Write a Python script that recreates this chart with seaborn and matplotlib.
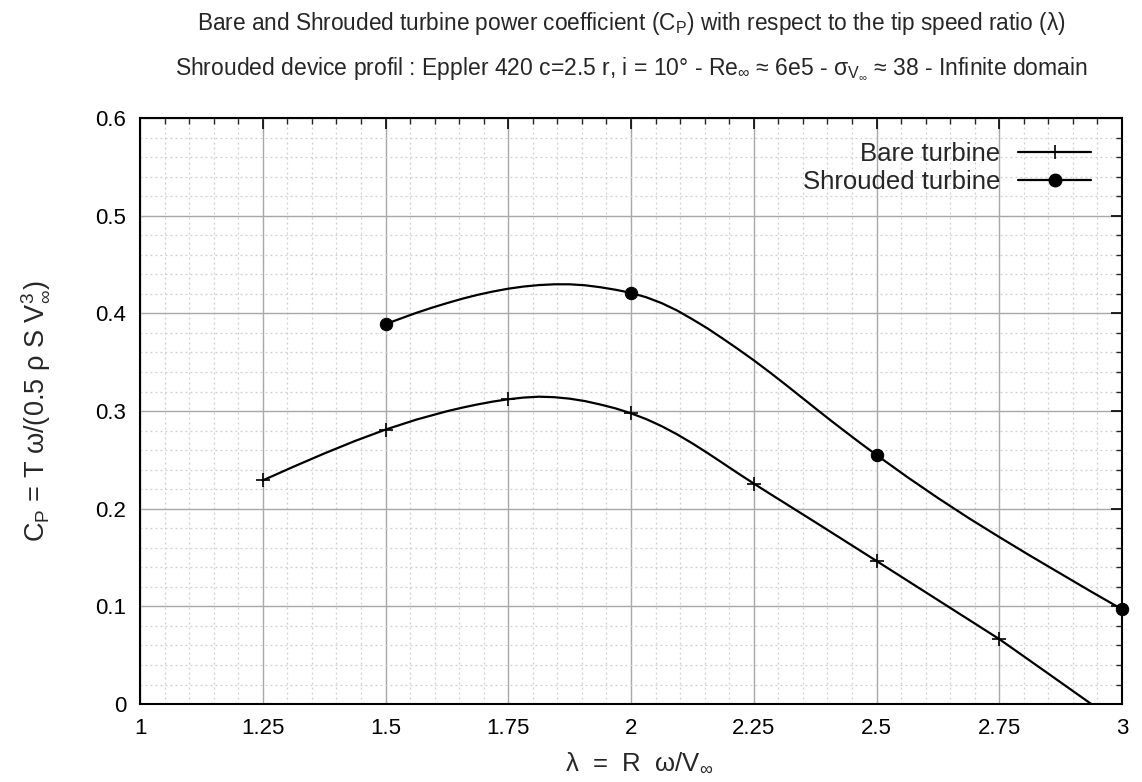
import matplotlib
matplotlib.use("Agg")
import matplotlib.pyplot as plt
import seaborn as sns
import pandas as pd
from matplotlib.lines import Line2D
from matplotlib.ticker import MultipleLocator

# Measured data points (markers)
bare_tsr = [1.25, 1.5, 1.75, 2.0, 2.25, 2.5, 2.75, 3.0]
bare_cp = [0.229, 0.281, 0.3121, 0.2977, 0.2258, 0.1465, 0.0665, -0.022]
shroud_tsr = [1.5, 2.0, 2.5, 3.0]
shroud_cp = [0.389, 0.421, 0.255, 0.097]

# Smoothed curves, values
bare_curve_tsr = [1.25, 1.3125, 1.375, 1.4375, 1.5, 1.5625, 1.625, 1.65625, 1.6875, 1.71875,
                  1.75, 1.78125, 1.8125, 1.84375, 1.875, 1.90625, 1.9375, 1.96875, 2.0,
                  2.03125, 2.0625, 2.09375, 2.125, 2.15625, 2.1875, 2.21875, 2.25, 2.28125,
                  2.3125, 2.375, 2.4375, 2.5, 2.5625, 2.625, 2.6875, 2.75, 2.8125, 2.875,
                  2.9375, 3.0]
bare_curve_cp = [0.229, 0.243, 0.2565, 0.2693, 0.281, 0.2912, 0.2998, 0.3035, 0.3068, 0.3097,
                 0.3121, 0.3138, 0.3147, 0.3142, 0.3127, 0.3102, 0.3067, 0.3027, 0.2977,
                 0.2917, 0.2845, 0.2762, 0.2669, 0.2569, 0.2465, 0.236, 0.2258, 0.2158,
                 0.206, 0.1863, 0.1664, 0.1465, 0.1265, 0.1065, 0.0865, 0.0665, 0.0444, 0.0222,
                 0.0, -0.022]
shroud_curve_tsr = [1.5, 1.53125, 1.5625, 1.59375, 1.625, 1.65625, 1.6875, 1.71875, 1.75,
                    1.78125, 1.8125, 1.84375, 1.875, 1.90625, 1.9375, 1.96875, 2.0, 2.03125,
                    2.0625, 2.09375, 2.125, 2.15625, 2.1875, 2.21875, 2.25, 2.28125, 2.3125,
                    2.34375, 2.375, 2.40625, 2.4375, 2.46875, 2.5, 2.5625, 2.625, 2.6875,
                    2.75, 2.8125, 2.875, 2.9375, 3.0]
shroud_curve_cp = [0.389, 0.3948, 0.4005, 0.4057, 0.4105, 0.415, 0.419, 0.4224, 0.4253,
                   0.4275, 0.429, 0.4298, 0.4298, 0.4288, 0.4268, 0.4242, 0.421, 0.4165,
                   0.4105, 0.403, 0.394, 0.3845, 0.374, 0.3632, 0.352, 0.3402, 0.328,
                   0.3155, 0.303, 0.2906, 0.2785, 0.2666, 0.255, 0.2325, 0.211, 0.1905,
                   0.171, 0.152, 0.1335, 0.115, 0.097]

x_ticks = [1, 1.25, 1.5, 1.75, 2, 2.25, 2.5, 2.75, 3]
x_tick_labels = ["1", "1.25", "1.5", "1.75", "2", "2.25", "2.5", "2.75", "3"]
y_ticks = [0, 0.1, 0.2, 0.3, 0.4, 0.5, 0.6]
y_tick_labels = ["0", "0.1", "0.2", "0.3", "0.4", "0.5", "0.6"]

sns.set_style("white")
plt.rcParams["font.family"] = ["Liberation Sans", "DejaVu Sans"]
plt.rcParams["mathtext.fontset"] = "custom"
plt.rcParams["mathtext.rm"] = "Liberation Sans"
plt.rcParams["mathtext.it"] = "Liberation Sans"
plt.rcParams["mathtext.sf"] = "Liberation Sans"

fig = plt.figure(figsize=(11.42, 7.82), dpi=100)
ax = fig.add_axes([0.1226, 0.0997, 0.8599, 0.7493])

bare_curve = pd.DataFrame({"tsr": bare_curve_tsr, "cp": bare_curve_cp})
shroud_curve = pd.DataFrame({"tsr": shroud_curve_tsr, "cp": shroud_curve_cp})
sns.lineplot(data=bare_curve, x="tsr", y="cp", ax=ax, color="black", lw=1.6, sort=False,
             zorder=3, solid_joinstyle="round")
sns.lineplot(data=shroud_curve, x="tsr", y="cp", ax=ax, color="black", lw=1.6, sort=False,
             zorder=3, solid_joinstyle="round")
bare_pts = pd.DataFrame({"tsr": bare_tsr, "cp": bare_cp})
shroud_pts = pd.DataFrame({"tsr": shroud_tsr, "cp": shroud_cp})
sns.scatterplot(data=bare_pts, x="tsr", y="cp", ax=ax, marker="+", s=90, color="black",
                linewidth=1.2, zorder=4)
sns.scatterplot(data=shroud_pts, x="tsr", y="cp", ax=ax, marker="o", s=80, color="black",
                edgecolor="black", zorder=4, clip_on=False)

ax.set_xlim(1, 3)
ax.set_ylim(0, 0.6)
ax.set_xticks(x_ticks)
ax.set_xticklabels(x_tick_labels, fontsize=16)
ax.set_yticks(y_ticks)
ax.set_yticklabels(y_tick_labels, fontsize=16)
ax.xaxis.set_minor_locator(MultipleLocator(0.05))
ax.yaxis.set_minor_locator(MultipleLocator(0.02))
ax.tick_params(which="major", direction="in", length=8, width=1.2, top=True, right=True, pad=10,
               colors="black")
ax.tick_params(which="minor", direction="in", length=4, width=1.0, top=True, right=True)
ax.grid(which="major", color="#a8a8a8", lw=1.0, ls="-")
ax.grid(which="minor", color="#cfcfcf", lw=0.9, ls=(0, (1.5, 2.5)))
ax.set_axisbelow(True)
for sp in ax.spines.values():
    sp.set_color("black")
    sp.set_linewidth(1.5)

ax.set_xlabel(r"λ  =  R  ω/V$_\infty$", fontsize=18.5)
ax.xaxis.set_label_coords(0.508, -0.08)
ax.set_ylabel(r"C$_\mathrm{P}$ = T ω/(0.5 ρ S V$_\infty^3$)", fontsize=19.5, labelpad=31)

fig.text(0.5525, 0.970, "Bare and Shrouded turbine power coefficient (C$_\\mathrm{P}$) with respect to the tip speed ratio (λ)",
         ha="center", va="center", fontsize=16.3)
fig.text(0.5525, 0.912, "Shrouded device profil : Eppler 420 c=2.5 r, i = 10° - Re$_\\infty$ ≈ 6e5 - σ$_{V_\\infty}$ ≈ 38 - Infinite domain",
         ha="center", va="center", fontsize=16.5)

handles = [Line2D([], [], color="black", lw=1.6, marker="+", markersize=10, markeredgewidth=1.2),
           Line2D([], [], color="black", lw=1.6, marker="o", markersize=9)]
ax.legend(handles, ["Bare turbine", "Shrouded turbine"], loc="upper right", frameon=False,
          markerfirst=False, fontsize=18.5, handlelength=2.85, handletextpad=0.7,
          labelspacing=0.12, borderaxespad=0.8, bbox_to_anchor=(1, 1.011))

fig.savefig("out.png", dpi=100, facecolor="white")
